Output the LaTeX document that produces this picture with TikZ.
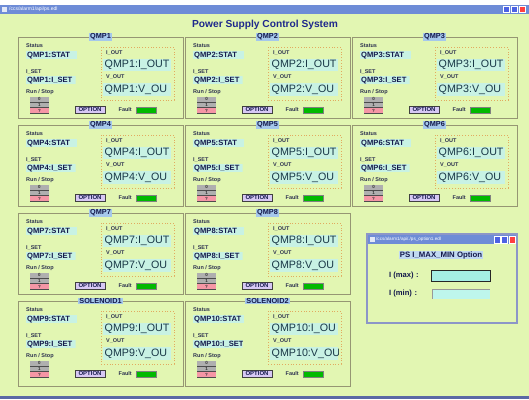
\documentclass[tikz,border=0pt]{standalone}
\usepackage{fontspec}
\setmainfont{Liberation Sans}
\definecolor{bgc}{RGB}{226,246,178}
\definecolor{framec}{RGB}{150,150,115}
\definecolor{hlc}{RGB}{200,242,228}
\definecolor{ptitlebg}{RGB}{165,200,235}
\definecolor{navyc}{RGB}{20,25,75}
\definecolor{tealc}{RGB}{25,55,70}
\definecolor{lblc}{RGB}{45,50,80}
\definecolor{dotc}{RGB}{225,170,95}
\definecolor{optfill}{RGB}{215,200,245}
\definecolor{faultg}{RGB}{0,185,0}
\definecolor{grayb}{RGB}{175,175,175}
\definecolor{pinkb}{RGB}{245,150,165}
\definecolor{tbarc}{RGB}{110,140,215}
\definecolor{bottomc}{RGB}{90,105,165}
\definecolor{titlec}{RGB}{30,40,140}
\definecolor{dlgframe}{RGB}{140,150,200}
\definecolor{fieldc}{RGB}{165,238,228}
\definecolor{fieldc2}{RGB}{190,246,236}
\tikzset{
  x=1pt, y=-1pt,
  panelframe/.style={draw=framec, line width=0.8pt},
  ptitle/.style={font=\fontsize{7.3}{8}\selectfont\bfseries, text=navyc, fill=ptitlebg, inner xsep=1pt, inner ysep=0.6pt},
  lbl/.style={font=\fontsize{5.5}{6}\selectfont\bfseries, text=lblc, anchor=west, inner sep=0pt},
  pvname/.style={font=\fontsize{7.6}{8}\selectfont\bfseries, text=navyc, anchor=west, inner sep=0pt},
  bigname/.style={font=\fontsize{10.7}{11}\selectfont, text=tealc, anchor=west, inner sep=0pt},
  hl/.style={fill=hlc},
  dotbox/.style={draw=dotc, dotted, line width=0.8pt},
  btnbar/.style={draw=black!70, line width=0.4pt},
  btntxt/.style={font=\fontsize{4.5}{5}\selectfont\bfseries, text=black!80, inner sep=0pt},
  optbtn/.style={font=\fontsize{6}{7}\selectfont\bfseries, text=navyc, fill=optfill, draw=black!75, line width=0.6pt, minimum width=30pt, minimum height=7pt, inner sep=0pt},
  faultbox/.style={fill=faultg, draw=black!50, line width=0.3pt},
  winbtn/.style={fill=#1, draw=white, line width=0.4pt},
  tbartxt/.style={font=\fontsize{5}{6}\selectfont, text=white, anchor=west, inner sep=0pt},
}
% #1 id, #2 x0, #3 y0, #4 height, #5 title, #6 stat, #7 iset, #8 iout, #9 vout
\newcommand\pspanel[9]{%
\begin{scope}[shift={(#2,#3)}]
  \draw[panelframe] (0,0) rectangle (165,#4);
  \node[lbl] (#1-sl) at (8,9) {Status};
  \begin{scope}
    \clip (8,14) rectangle (59,22);
    \fill[hl] (8,14) rectangle (59,22);
    \node[pvname] (#1-stat) at (9,18.3) {#6};
  \end{scope}
  \node[lbl] (#1-il) at (8,35) {I\_SET};
  \begin{scope}
    \clip (8,39) rectangle (57.5,47);
    \fill[hl] (8,39) rectangle (57.5,47);
    \node[pvname] (#1-iset) at (9,43.3) {#7};
  \end{scope}
  \node[lbl] (#1-rs) at (8,55) {Run / Stop};
  \fill[grayb] (12,60) rectangle (31,65);
  \draw[btnbar] (12,65) -- (31,65);
  \node[btntxt] (#1-b0) at (21.5,62.3) {0};
  \fill[grayb] (12,65.5) rectangle (31,70);
  \draw[btnbar] (12,70) -- (31,70);
  \node[btntxt] (#1-b1) at (21.5,67.8) {1};
  \fill[pinkb] (12,70.5) rectangle (31,76);
  \draw[btnbar] (12,76) -- (31,76);
  \node[btntxt] (#1-b2) at (21.5,73.5) {?};
  \node[optbtn] (#1-opt) at (72,72.5) {OPTION};
  \node[lbl, anchor=east] (#1-fl) at (114,73) {Fault};
  \draw[faultbox] (118,70) rectangle (138,76);
  \draw[dotbox] (83,10) rectangle (156,63);
  \node[lbl] (#1-ol) at (88,16) {I\_OUT};
  \begin{scope}
    \clip (85,22) rectangle (153,34);
    \fill[hl] (85,22) rectangle (153,34);
    \node[bigname] (#1-iout) at (86.5,28.3) {#8};
  \end{scope}
  \node[lbl] (#1-vl) at (88,40) {V\_OUT};
  \begin{scope}
    \clip (85,46) rectangle (153,59);
    \fill[hl] (85,46) rectangle (153,59);
    \node[bigname] (#1-vout) at (86.5,52.8) {#9};
  \end{scope}
  \node[ptitle] (#1-t) at (82.5,0) {#5};
\end{scope}}
\begin{document}
\begin{tikzpicture}
\useasboundingbox (0,0) rectangle (529,399);
\fill[white] (0,0) rectangle (529,399);
% main window
\fill[tbarc] (0,5) rectangle (529,14);
\fill[white!80!tbarc] (2,7) rectangle (7,12);
\node[tbartxt] (wintitle) at (9,9.5) {/ccs/alarm1/api/ps.edl};
\fill[winbtn=tbarc!70!blue] (503,6.5) rectangle (509.5,12.5);
\fill[winbtn=tbarc!70!blue] (511,6.5) rectangle (517.5,12.5);
\fill[winbtn=red!75!white] (519,6.5) rectangle (525.5,12.5);
\fill[bgc] (0,14) rectangle (529,396);
\fill[bottomc] (0,396) rectangle (529,399);
\node[font=\fontsize{10.2}{12}\selectfont\bfseries, text=titlec, inner sep=0pt] (title) at (265,24.5) {Power Supply Control System};
% panels
\pspanel{p1}{18}{37}{81}{QMP1}{QMP1:STAT}{QMP1:I\_SET}{QMP1:I\_OUT}{QMP1:V\_OU}
\pspanel{p2}{185}{37}{81}{QMP2}{QMP2:STAT}{QMP2:I\_SET}{QMP2:I\_OUT}{QMP2:V\_OU}
\pspanel{p3}{352}{37}{81}{QMP3}{QMP3:STAT}{QMP3:I\_SET}{QMP3:I\_OUT}{QMP3:V\_OU}
\pspanel{p4}{18}{125}{81}{QMP4}{QMP4:STAT}{QMP4:I\_SET}{QMP4:I\_OUT}{QMP4:V\_OU}
\pspanel{p5}{185}{125}{81}{QMP5}{QMP5:STAT}{QMP5:I\_SET}{QMP5:I\_OUT}{QMP5:V\_OU}
\pspanel{p6}{352}{125}{81}{QMP6}{QMP6:STAT}{QMP6:I\_SET}{QMP6:I\_OUT}{QMP6:V\_OU}
\pspanel{p7}{18}{213}{81}{QMP7}{QMP7:STAT}{QMP7:I\_SET}{QMP7:I\_OUT}{QMP7:V\_OU}
\pspanel{p8}{185}{213}{81}{QMP8}{QMP8:STAT}{QMP8:I\_SET}{QMP8:I\_OUT}{QMP8:V\_OU}
\pspanel{p9}{18}{301}{85}{SOLENOID1}{QMP9:STAT}{QMP9:I\_SET}{QMP9:I\_OUT}{QMP9:V\_OU}
\pspanel{p10}{185}{301}{85}{SOLENOID2}{QMP10:STAT}{QMP10:I\_SET}{QMP10:I\_OU}{QMP10:V\_OU}
% option dialog
\fill[bgc] (367,234) rectangle (517,323);
\draw[dlgframe, line width=1.5pt] (367,234) rectangle (517,323);
\fill[tbarc] (368,235) rectangle (516,244);
\fill[white!80!tbarc] (369.5,237) rectangle (374.5,242);
\node[tbartxt, font=\fontsize{4.6}{5}\selectfont] (dlgtitle) at (376,239.5) {/ccs/alarm1/api/./ps\_option1.edl};
\fill[winbtn=tbarc!70!blue] (494,236) rectangle (500,243);
\fill[winbtn=tbarc!70!blue] (501.5,236) rectangle (507.5,243);
\fill[winbtn=red!75!white] (509,236) rectangle (515,243);
\node[font=\fontsize{7.8}{9}\selectfont\bfseries, text=navyc, fill=ptitlebg!70!white, inner xsep=1pt, inner ysep=0.6pt] (dlghead) at (441,255) {PS I\_MAX\_MIN Option};
\node[lbl, font=\fontsize{7.6}{9}\selectfont\bfseries, text=navyc] (imaxl) at (389,276) {I (max)\,\,:};
\node[lbl, font=\fontsize{7.6}{9}\selectfont\bfseries, text=navyc] (iminl) at (389,294) {I (min)\,\,:};
\node[draw=black!85, line width=1pt, fill=fieldc, minimum width=59pt, minimum height=11pt, inner sep=0pt] (imaxf) at (461,276) {};
\node[fill=fieldc2, minimum width=58pt, minimum height=9pt, inner sep=0pt] (iminf) at (461,294) {};
\draw[black!40, line width=0.5pt] (iminf.south west) -- (iminf.north west) -- (iminf.north east);
\end{tikzpicture}
\end{document}
